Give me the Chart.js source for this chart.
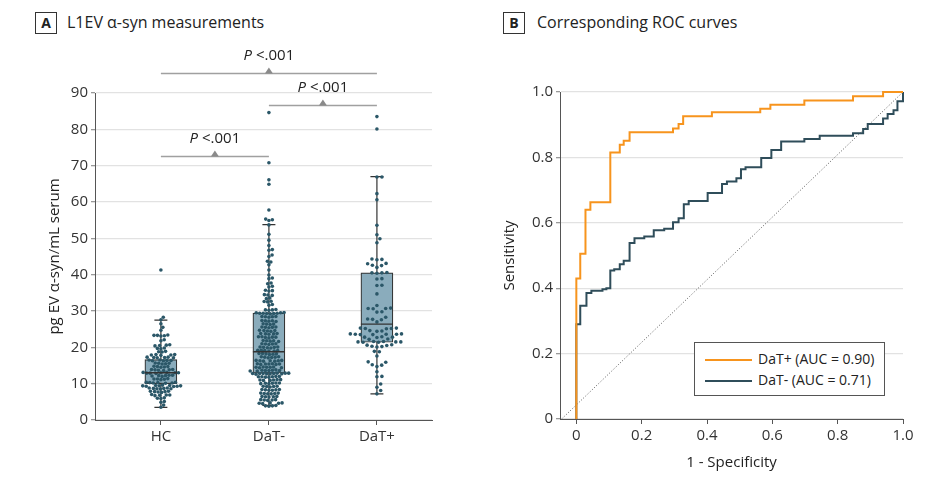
<!DOCTYPE html>
<html>
<head>
<meta charset="utf-8">
<script src="https://cdn.jsdelivr.net/npm/chart.js@4.4.1/dist/chart.umd.min.js"></script>
<style>
  body { margin: 0; background: #fff; width: 927px; height: 491px; position: relative; overflow: hidden; font-family: "Open Sans", sans-serif; color: #222; }
  canvas { position: absolute; top: 0; }
  .tag { position: absolute; top: 12px; width: 20px; height: 20px; border: 1px solid #333; font-weight: bold; font-size: 14px; line-height: 20px; text-align: center; }
  .ttl { position: absolute; top: 10px; font-size: 16px; line-height: 24px; }
  #legend { position: absolute; left: 694px; top: 342px; width: 189px; height: 52px; border: 1px solid #555; background: #fff; font-size: 14px; }
  #legend .row { position: absolute; left: 10px; height: 20px; line-height: 20px; white-space: nowrap; }
  #legend .sw { display: inline-block; width: 47px; height: 2px; vertical-align: middle; margin-right: 6px; }
</style>
</head>
<body>
<div class="tag" style="left:35px">A</div>
<div class="ttl" style="left:67px">L1EV α-syn measurements</div>
<div class="tag" style="left:503px">B</div>
<div class="ttl" style="left:537px">Corresponding ROC curves</div>

<canvas id="chartA" width="465" height="491" style="left:0;width:465px;height:491px"></canvas>
<canvas id="chartB" width="462" height="491" style="left:465px;width:462px;height:491px"></canvas>

<div id="legend">
  <div class="row" style="top:6px"><span class="sw" style="background:#f7941d"></span>DaT+ (AUC = 0.90)</div>
  <div class="row" style="top:27px"><span class="sw" style="background:#2f4d5a"></span>DaT- (AUC = 0.71)</div>
</div>

<script>
// ---- panel A data ----
const categories = ['HC', 'DaT-', 'DaT+'];

const hcValues = [41.3, 28.3, 27.6, 26.5, 25.5, 24.7,
  23.4, 23.2, 23.3, 23.1, 23.3, 22.1, 21.8,
  20.7, 20.5, 20.6, 20.4, 19.8, 19.6, 19.7, 18.9, 18.7, 18.8,
  18.0, 17.9, 17.8, 17.9, 18.0, 17.3, 17.2, 17.1, 17.2, 17.3, 17.1,
  16.5, 16.4, 16.3, 16.4, 16.5, 16.3, 15.7, 15.6, 15.5, 15.6, 15.4,
  14.8, 14.7, 14.6, 14.7, 14.5, 13.9, 13.8, 13.7, 13.8, 13.9, 13.6,
  13.1, 13.0, 12.9, 13.0, 13.1, 12.9, 13.0, 12.8, 12.3, 12.2, 12.1, 12.2, 12.0, 12.3,
  11.4, 11.3, 11.2, 11.3, 11.1, 10.4, 10.3, 10.2, 10.3, 10.1, 10.4, 10.2,
  9.5, 9.4, 9.3, 9.4, 9.6, 9.3, 9.5, 9.4, 9.2, 8.8, 8.7, 8.6, 8.7, 8.5, 8.8, 8.6,
  7.9, 7.8, 7.7, 7.8, 7.6, 7.9, 7.0, 6.9, 6.8, 6.9, 6.7, 6.1, 6.0, 5.9, 5.1, 4.9, 4.1, 3.5];

const datNegValues = [84.6, 70.8, 66.1, 64.9, 57.8, 55.3, 55.1, 54.9, 53.7, 51.1, 49.5, 48.0, 46.9, 46.7, 45.4,
  45.0, 43.7, 43.5, 42.7, 41.3, 39.9, 39.1, 38.9, 37.7, 37.5, 36.8, 36.6, 35.7, 35.6, 35.5,
  34.5, 34.4, 34.3, 33.6, 33.4, 32.7, 32.6, 32.5, 31.8, 31.6, 30.4, 30.3, 30.2, 30.3,
  29.5, 29.4, 29.3, 29.4, 29.5, 29.3, 29.4, 29.6, 29.2, 28.5, 28.4, 28.3, 28.4, 28.5,
  27.4, 27.3, 27.2, 27.3, 27.1, 26.5, 26.4, 26.3, 26.4, 25.6, 25.5, 25.4, 25.5, 25.6,
  24.7, 24.6, 24.5, 24.6, 24.4, 23.8, 23.7, 23.6, 23.7, 23.8, 22.9, 22.8, 22.7, 22.8, 22.9, 22.6,
  21.9, 21.8, 21.7, 21.8, 21.6, 21.0, 20.9, 20.8, 20.9, 21.0, 20.1, 20.0, 19.9, 20.0, 20.1, 19.8,
  19.2, 19.1, 19.0, 19.1, 19.2, 19.0, 18.3, 18.2, 18.1, 18.2, 18.3, 18.0,
  17.4, 17.3, 17.2, 17.3, 17.4, 17.1, 16.4, 16.3, 16.2, 16.3, 16.4, 16.2, 16.3,
  15.5, 15.4, 15.3, 15.4, 15.5, 15.3, 15.4, 14.6, 14.5, 14.4, 14.5, 14.6, 14.4, 14.5,
  13.7, 13.6, 13.5, 13.6, 13.7, 13.5, 13.6, 13.8,
  12.9, 12.8, 12.7, 12.8, 12.9, 12.7, 12.8, 12.9, 12.6, 12.8, 12.7,
  12.0, 11.9, 11.8, 11.9, 12.0, 11.8, 11.9, 11.1, 11.0, 10.9, 11.0, 11.1, 10.9,
  10.2, 10.1, 10.0, 10.1, 10.2, 10.0, 9.3, 9.2, 9.1, 9.2, 9.3,
  8.4, 8.3, 8.2, 8.3, 8.4, 8.2, 7.4, 7.3, 7.2, 7.3, 7.4, 7.2,
  6.5, 6.4, 6.3, 6.4, 6.5, 5.6, 5.5, 5.4, 5.5, 5.6, 4.7, 4.6, 4.5, 4.6, 4.7, 4.0, 3.9, 3.8, 3.9];

const datPosValues = [83.5, 80.1, 66.9, 66.9, 62.3, 60.6, 53.6, 51.0, 49.9, 48.8,
  44.2, 44.3, 44.1, 43.1, 43.0, 42.5, 42.6, 42.0, 40.6, 40.5, 40.4, 40.5,
  38.8, 38.9, 37.0, 37.1, 34.7, 31.5, 30.7, 30.8, 30.6, 30.7, 29.7, 29.8, 28.3,
  27.7, 27.8, 27.6, 27.0, 25.2, 25.3, 25.1, 25.2, 25.3, 24.5, 24.6, 24.4,
  23.6, 23.7, 23.5, 23.6, 23.7, 23.5, 23.6, 22.8, 22.9, 22.7, 22.8, 22.2, 22.3,
  21.5, 21.6, 21.4, 21.5, 21.6, 21.4, 21.5, 20.6, 20.7, 20.5, 20.2, 20.3, 20.1,
  18.8, 18.9, 17.6, 15.9, 16.0, 15.1, 15.2, 14.7, 13.3, 11.9, 12.0, 9.9, 9.0, 8.1, 7.2];

const whiskerLow = [3.5, 4.0, 7.2];
const q1 = [10.0, 12.9, 21.4];
const median = [13.0, 18.8, 26.4];
const q3 = [16.6, 29.4, 40.5];
const whiskerHigh = [27.5, 53.8, 67.0];

// significance brackets
const pFrom = [0, 1, 0];
const pTo = [2, 2, 1];
const pLevel = [95.5, 86.7, 72.6];
const pText = ['<.001', '<.001', '<.001'];

// ---- panel B data ----
const rocPosFpr = [0, 0, 0.012, 0.028, 0.043, 0.104, 0.133, 0.145, 0.163, 0.296, 0.313, 0.327, 0.415, 0.563, 0.594, 0.698, 0.847, 0.939, 1.0];
const rocPosTpr = [0, 0.43, 0.505, 0.64, 0.663, 0.815, 0.839, 0.851, 0.877, 0.888, 0.902, 0.926, 0.938, 0.949, 0.961, 0.974, 0.987, 1.0, 1.0];
const rocNegFpr = [0, 0, 0.012, 0.031, 0.046, 0.08, 0.092, 0.104, 0.116, 0.133, 0.145, 0.163, 0.178, 0.208, 0.237, 0.269, 0.296, 0.313, 0.329, 0.344,
  0.402, 0.446, 0.461, 0.49, 0.504, 0.518, 0.566, 0.597, 0.627, 0.698, 0.745, 0.847, 0.878, 0.892, 0.939, 0.953, 0.971, 0.983, 1.0];
const rocNegTpr = [0, 0.29, 0.346, 0.385, 0.392, 0.397, 0.40, 0.454, 0.458, 0.473, 0.484, 0.538, 0.553, 0.558, 0.577, 0.582, 0.602, 0.614, 0.657, 0.667,
  0.691, 0.719, 0.726, 0.736, 0.764, 0.77, 0.798, 0.823, 0.849, 0.856, 0.866, 0.874, 0.887, 0.902, 0.919, 0.933, 0.944, 0.972, 1.0];
const chanceFpr = [-0.045, 1.0];
const chanceTpr = [0, 1.0];

const FONT = '"Open Sans", sans-serif';
const pointColor = '#2b5768';
const axisColor = '#555';
const gridColor = '#e2e2e2';
const swarmSpacing = [3.5, 3.5, 5.0];

function zip(xs, ys) { return xs.map((x, i) => ({x: x, y: ys[i]})); }

// whiskers under the boxes, medians and P brackets on top
const boxPlugin = {
  id: 'boxExtras',
  beforeDatasetsDraw(chart) {
    const ctx = chart.ctx, x = chart.scales.x, y = chart.scales.y;
    ctx.save();
    ctx.strokeStyle = '#333';
    ctx.lineWidth = 1.2;
    categories.forEach((c, i) => {
      const px = x.getPixelForValue(i);
      ctx.beginPath();
      ctx.moveTo(px, y.getPixelForValue(whiskerLow[i]));
      ctx.lineTo(px, y.getPixelForValue(whiskerHigh[i]));
      [whiskerLow[i], whiskerHigh[i]].forEach(v => {
        ctx.moveTo(px - 6.5, y.getPixelForValue(v));
        ctx.lineTo(px + 6.5, y.getPixelForValue(v));
      });
      ctx.stroke();
    });
    ctx.restore();
  },
  afterDatasetsDraw(chart) {
    const ctx = chart.ctx, x = chart.scales.x, y = chart.scales.y;
    ctx.save();
    ctx.strokeStyle = '#333';
    ctx.lineWidth = 1.4;
    categories.forEach((c, i) => {
      const px = x.getPixelForValue(i), py = y.getPixelForValue(median[i]);
      ctx.beginPath();
      ctx.moveTo(px - 16, py);
      ctx.lineTo(px + 16, py);
      ctx.stroke();
    });
    // brackets
    pLevel.forEach((lv, k) => {
      const x0 = x.getPixelForValue(pFrom[k]), x1 = x.getPixelForValue(pTo[k]);
      const py = Math.round(y.getPixelForValue(lv)) + 0.5, mid = (x0 + x1) / 2;
      ctx.strokeStyle = '#a0a0a0';
      ctx.lineWidth = 1.5;
      ctx.beginPath();
      ctx.moveTo(x0, py);
      ctx.lineTo(x1, py);
      ctx.stroke();
      ctx.fillStyle = '#8a8a8a';
      ctx.beginPath();
      ctx.moveTo(mid - 4, py);
      ctx.lineTo(mid + 4, py);
      ctx.lineTo(mid, py - 6);
      ctx.closePath();
      ctx.fill();
      ctx.fillStyle = '#222';
      ctx.textBaseline = 'middle';
      ctx.font = 'italic 15px ' + FONT;
      const wP = ctx.measureText('P').width;
      ctx.font = '15px ' + FONT;
      const rest = ' ' + pText[k];
      const wR = ctx.measureText(rest).width;
      const sx = mid - (wP + wR) / 2;
      ctx.font = 'italic 15px ' + FONT;
      ctx.textAlign = 'left';
      ctx.fillText('P', sx, py - 18);
      ctx.font = '15px ' + FONT;
      ctx.fillText(rest, sx + wP, py - 18);
    });
    ctx.restore();
  }
};

const chartA = new Chart(document.getElementById('chartA'), {
  type: 'scatter',
  data: {
    datasets: [
      {
        type: 'bar',
        data: q1.map((v, i) => ({x: i, y: [q1[i], q3[i]]})),
        backgroundColor: '#8aacbc',
        borderColor: '#333',
        borderWidth: 1.2,
        borderSkipped: false,
        barThickness: 32,
        order: 2
      },
      {data: hcValues.map(v => ({x: 0, y: v})), backgroundColor: pointColor, pointRadius: 1.8, borderWidth: 0, order: 0},
      {data: datNegValues.map(v => ({x: 1, y: v})), backgroundColor: pointColor, pointRadius: 1.8, borderWidth: 0, order: 0},
      {data: datPosValues.map(v => ({x: 2, y: v})), backgroundColor: pointColor, pointRadius: 1.8, borderWidth: 0, order: 0}
    ]
  },
  options: {
    responsive: false,
    animation: false,
    events: [],
    layout: {padding: {left: 46, top: 93, right: 33, bottom: 31}},
    plugins: {legend: {display: false}, tooltip: {enabled: false}},
    scales: {
      x: {
        type: 'linear',
        offset: false,
        min: -0.61,
        max: 2.51,
        afterBuildTicks: s => { s.ticks = categories.map((c, i) => ({value: i})); },
        afterFit: s => { s.height = 40; },
        grid: {drawOnChartArea: false, offset: false, color: axisColor, tickLength: 5},
        border: {color: axisColor},
        ticks: {color: '#333', font: {family: FONT, size: 15}, padding: 3, callback: v => categories[v]}
      },
      y: {
        min: 0,
        max: 90,
        afterFit: s => { s.width = 49; },
        grid: {color: gridColor, lineWidth: 1.3, tickLength: 4, tickColor: '#999'},
        border: {color: axisColor},
        ticks: {stepSize: 10, color: '#333', font: {family: FONT, size: 15}, padding: 3},
        title: {display: true, text: 'pg EV α-syn/mL serum', color: '#222', font: {family: FONT, size: 15}, padding: 0}
      }
    }
  },
  plugins: [boxPlugin]
});

// beeswarm offsets, computed in pixels from the chart's own scales
function swarm(chart, groups) {
  const xs = chart.scales.x, ys = chart.scales.y;
  groups.forEach((vals, gi) => {
    const d = swarmSpacing[gi];
    const cx = xs.getPixelForValue(gi);
    const pts = vals.map(v => ({v: v, py: ys.getPixelForValue(v), dx: 0})).sort((a, b) => a.v - b.v);
    const placed = [];
    pts.forEach(p => {
      const cands = [0];
      placed.forEach(q => {
        const dy = Math.abs(q.py - p.py);
        if (dy < d) {
          const dx = Math.sqrt(d * d - dy * dy);
          cands.push(q.dx + dx, q.dx - dx);
        }
      });
      cands.sort((a, b) => Math.abs(a) - Math.abs(b));
      for (const c of cands) {
        if (placed.every(q => (q.dx - c) * (q.dx - c) + (q.py - p.py) * (q.py - p.py) >= d * d - 0.01)) {
          p.dx = c;
          break;
        }
      }
      placed.push(p);
    });
    chart.data.datasets[gi + 1].data = placed.map(p => ({x: xs.getValueForPixel(cx + p.dx), y: p.v}));
  });
  chart.update('none');
}
swarm(chartA, [hcValues, datNegValues, datPosValues]);

// ---- panel B ----
new Chart(document.getElementById('chartB'), {
  type: 'line',
  data: {
    datasets: [
      {data: zip(rocPosFpr, rocPosTpr), borderColor: '#f7941d', borderWidth: 2, stepped: true, pointRadius: 0, clip: 4, order: 0},
      {data: zip(rocNegFpr, rocNegTpr), borderColor: '#2f4d5a', borderWidth: 2, stepped: true, pointRadius: 0, clip: 4, order: 1},
      {data: zip(chanceFpr, chanceTpr), borderColor: '#555', borderWidth: 1, borderDash: [1, 2], pointRadius: 0, order: 2}
    ]
  },
  options: {
    responsive: false,
    animation: false,
    events: [],
    layout: {padding: {left: 36, top: 92, right: 24, bottom: 19}},
    plugins: {legend: {display: false}, tooltip: {enabled: false}},
    scales: {
      x: {
        type: 'linear',
        min: -0.05,
        max: 1.0,
        afterBuildTicks: s => { s.ticks = [0, 0.2, 0.4, 0.6, 0.8, 1.0].map(v => ({value: v})); },
        afterFit: s => { s.height = 53; },
        grid: {drawOnChartArea: false, color: axisColor, tickLength: 5},
        border: {color: axisColor},
        ticks: {color: '#333', font: {family: FONT, size: 15}, padding: 3, callback: v => v === 0 ? '0' : v.toFixed(1)},
        title: {display: true, text: '1 - Specificity', color: '#222', font: {family: FONT, size: 15}, padding: 0}
      },
      y: {
        min: 0,
        max: 1.0,
        afterFit: s => { s.width = 59; },
        grid: {color: gridColor, lineWidth: 1.3, tickLength: 4, tickColor: '#999'},
        border: {color: axisColor},
        ticks: {stepSize: 0.2, color: '#333', font: {family: FONT, size: 15}, padding: 3, callback: v => v === 0 ? '0' : v.toFixed(1)},
        title: {display: true, text: 'Sensitivity', color: '#222', font: {family: FONT, size: 15}, padding: 0}
      }
    }
  }
});
</script>
</body>
</html>
